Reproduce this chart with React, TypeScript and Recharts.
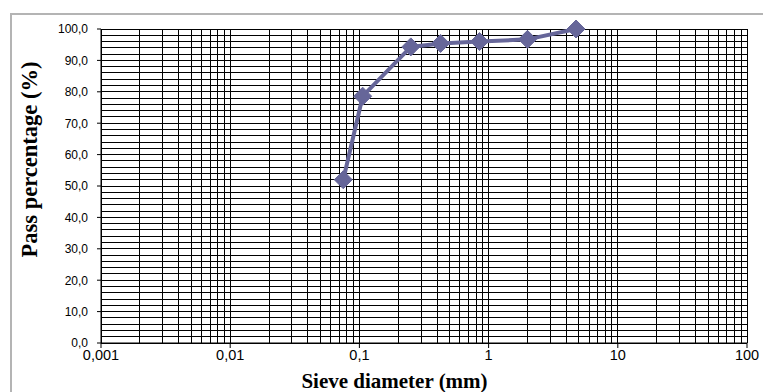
import { CartesianGrid, Line, LineChart, XAxis, YAxis } from "recharts";

// sieve sizes (mm) and cumulative pass percentage
const SIEVE_MM = [0.075, 0.106, 0.25, 0.425, 0.85, 2.0, 4.75];
const PASS_PCT = [52.0, 78.6, 94.3, 95.4, 96.0, 96.7, 100.0];

const X_DECADES = [0.001, 0.01, 0.1, 1, 10, 100];
const X_DECADE_LABELS = ["0,001", "0,01", "0,1", "1", "10", "100"];
const X_MINOR_STEPS = [1, 2, 3, 4, 5, 6, 7, 8, 9];
const Y_GRID = [0, 2, 4, 6, 8, 10, 12, 14, 16, 18, 20, 22, 24, 26, 28, 30, 32, 34, 36, 38, 40, 42, 44, 46, 48, 50, 52, 54, 56, 58, 60, 62, 64, 66, 68, 70, 72, 74, 76, 78, 80, 82, 84, 86, 88, 90, 92, 94, 96, 98, 100];
const Y_MAJOR = [0, 10, 20, 30, 40, 50, 60, 70, 80, 90, 100];

const SERIES_COLOR = "#666699";
const GRID_COLOR = "#000000";

const data = SIEVE_MM.map((size, i) => ({ size, pass: PASS_PCT[i] }));

// one vertical gridline at every 1..9 step of each decade, plus the last decade
const X_GRID = X_DECADES.slice(0, -1)
  .flatMap((d) => X_MINOR_STEPS.map((s) => +(d * s).toPrecision(3)))
  .concat([X_DECADES[X_DECADES.length - 1]]);

function XTick({ x, y, payload }: any) {
  const idx = X_DECADES.indexOf(payload.value);
  if (idx < 0) return null;
  return (
    <g>
      <line x1={x} y1={y} x2={x} y2={y + 5} stroke="#000" />
      <text
        x={x}
        y={y + 17}
        textAnchor="middle"
        fontFamily="'Liberation Sans', Arial, sans-serif"
        fontSize={14.5}
        fill="#000"
      >
        {X_DECADE_LABELS[idx]}
      </text>
    </g>
  );
}

function YTick({ x, y, payload }: any) {
  if (!Y_MAJOR.includes(payload.value)) return null;
  return (
    <g>
      <line x1={x - 4} y1={y} x2={x} y2={y} stroke="#000" />
      <text
        x={x - 13}
        y={y}
        dy="0.36em"
        textAnchor="end"
        fontFamily="'Liberation Sans', Arial, sans-serif"
        fontSize={12}
        fill="#000"
      >
        {payload.value.toFixed(1).replace(".", ",")}
      </text>
    </g>
  );
}

function Diamond({ cx, cy }: any) {
  if (cx == null || cy == null) return null;
  const r = 9;
  return (
    <polygon
      points={`${cx},${cy - r} ${cx + r},${cy} ${cx},${cy + r} ${cx - r},${cy}`}
      fill={SERIES_COLOR}
      stroke={SERIES_COLOR}
    />
  );
}

const titleStyle = {
  fontFamily: "'Liberation Serif', 'Times New Roman', serif",
  fontWeight: 700,
  fontSize: 21,
  fill: "#000",
};

export default function App() {
  return (
    <div
      style={{
        position: "absolute",
        left: 0,
        top: 0,
        width: 763,
        height: 392,
        overflow: "hidden",
        background: "#fff",
      }}
    >
      <div
        style={{
          position: "absolute",
          left: 10,
          top: 13,
          width: 820,
          height: 440,
          border: "2px solid #b4b4b4",
        }}
      />
      <div style={{ position: "absolute", left: 0, top: 0 }}>
        <LineChart
          width={763}
          height={392}
          data={data}
          margin={{ top: 29, right: 16, bottom: 0, left: 41 }}
        >
          <CartesianGrid
            stroke={GRID_COLOR}
            strokeWidth={1}
            shapeRendering="crispEdges"
          />
          <XAxis
            dataKey="size"
            type="number"
            scale="log"
            domain={[0.001, 100]}
            allowDataOverflow
            ticks={X_GRID}
            interval={0}
            tickLine={false}
            tickSize={0}
            tickMargin={0}
            height={49}
            axisLine={{ stroke: "#000" }}
            tick={<XTick />}
            label={() => (
              <text x={394.5} y={388} textAnchor="middle" style={titleStyle}>
                Sieve diameter (mm)
              </text>
            )}
          />
          <YAxis
            type="number"
            domain={[0, 100]}
            ticks={Y_GRID}
            interval={0}
            tickLine={false}
            tickSize={0}
            tickMargin={0}
            width={60}
            axisLine={{ stroke: "#000" }}
            tick={<YTick />}
            label={() => (
              <text
                x={37}
                y={159.5}
                textAnchor="middle"
                transform="rotate(-90 37 159.5)"
                style={{ ...titleStyle, fontSize: 22.5 }}
              >
                Pass percentage (%)
              </text>
            )}
          />
          <Line
            type="linear"
            dataKey="pass"
            stroke={SERIES_COLOR}
            strokeWidth={4}
            dot={<Diamond />}
            activeDot={false}
            isAnimationActive={false}
          />
        </LineChart>
      </div>
    </div>
  );
}
